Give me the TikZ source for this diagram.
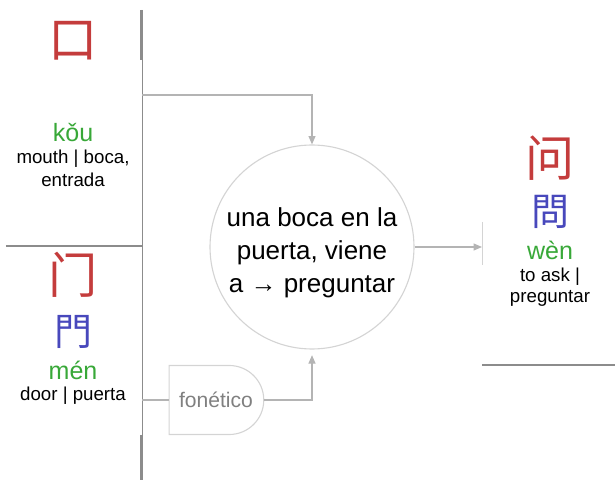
\documentclass[tikz,border=0pt]{standalone}
\usepackage{fontspec}
\setmainfont{Liberation Sans}
\newfontfamily\cjksc{Noto Sans CJK SC}
\newfontfamily\cjktc{Noto Sans CJK TC}
\usetikzlibrary{calc,arrows.meta,shapes.misc}
\definecolor{hanred}{HTML}{C43C3C}
\definecolor{hanblue}{HTML}{4848BC}
\definecolor{pinyingreen}{HTML}{38A838}
\definecolor{panelgray}{HTML}{8C8C8C}
\definecolor{arrowgray}{HTML}{B4B4B4}
\definecolor{ringgray}{HTML}{D4D4D4}
\tikzset{
    simp/.style={text=hanred, font=\cjksc\fontsize{35}{35}\selectfont, inner sep=0pt},
    trad/.style={text=hanblue, font=\cjktc\fontsize{27}{27}\selectfont, inner sep=0pt},
    pinyin/.style={text=pinyingreen, font=\fontsize{17.8}{18}\selectfont, inner sep=0pt},
    gloss/.style={font=\fontsize{13.3}{14}\selectfont, inner sep=0pt},
    link/.style={arrowgray, thick, -{Triangle[width=5pt,length=6pt]}},
}

\begin{document}
\begin{tikzpicture}
    \useasboundingbox (0,0) rectangle (15.375,12);
    % panel borders
    \draw[panelgray] (3.55,11.75) -- (3.55,0);
    \draw[panelgray, line width=1.2pt] (3.53,11.75) -- (3.53,10.5);
    \draw[panelgray, line width=1.2pt] (3.53,1.125) -- (3.53,0);
    \draw[panelgray, line width=1pt] (0.15,5.85) -- (3.55,5.85);
    \draw[ringgray] (12.05,6.45) -- (12.05,5.375);
    \draw[panelgray, line width=1pt] (12.05,2.875) -- (15.375,2.875);
    % left top: mouth
    \node[simp] (kou) at (1.825,10.975) {口};
    \node[pinyin] (kouPy) at (1.825,8.675) {kǒu};
    \node[gloss] (kouEn) at (1.825,8.025) {mouth | boca,};
    \node[gloss] (kouEn2) at (1.825,7.5) {entrada};
    % left bottom: door
    \node[simp] (men) at (1.825,5.125) {门};
    \node[trad] (menT) at (1.825,3.7) {門};
    \node[pinyin] (menPy) at (1.825,2.75) {mén};
    \node[gloss] (menEn) at (1.825,2.1) {door | puerta};
    % right: ask
    \node[simp] (wen) at (13.75,8.05) {问};
    \node[trad] (wenT) at (13.75,6.7) {問};
    \node[pinyin] (wenPy) at (13.75,5.75) {wèn};
    \node[gloss] (wenEn) at (13.75,5.075) {to ask |};
    \node[gloss] (wenEn2) at (13.75,4.55) {preguntar};
    % middle
    \node[circle, draw=ringgray, thick, minimum size=5.1cm] (idea) at (7.8,5.825) {};
    \node[align=center, font=\fontsize{18.5}{23.5}\selectfont] (ideaText)
          at ([yshift=-0.15cm]idea.center) {una boca en la\\puerta, viene\\a → preguntar};
    \node[rounded rectangle, rounded rectangle left arc=none, draw=ringgray, thick,
          minimum width=2.6cm, minimum height=1.725cm, text=gray,
          font=\fontsize{15}{15}\selectfont] (fon) at (5.4,2.0) {fonético};
    \coordinate (kouOut) at (3.55,9.625);
    \coordinate (menOut) at (3.55,2.0);
    \coordinate (wenIn) at (12.05,5.825);
    \draw[link] (kouOut) -| (idea.north);
    \draw[arrowgray, thick] (menOut) -- (fon.west);
    \draw[link] (fon.east) -| ([yshift=-4pt]idea.south);
    \draw[link] (idea.east) -- (wenIn);
\end{tikzpicture}
\end{document}
